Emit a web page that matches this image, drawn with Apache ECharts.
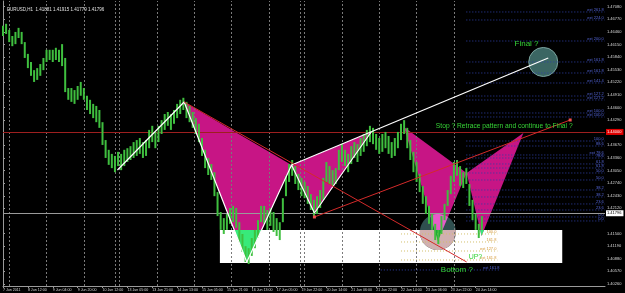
<!DOCTYPE html>
<html><head><meta charset="utf-8">
<script src="https://cdn.jsdelivr.net/npm/echarts@6/dist/echarts.min.js"></script>
<style>html,body{margin:0;padding:0;background:#000}#c{width:625px;height:293px}</style>
</head><body><div id="c"></div>
<script>
// ===== DATA (x = hourly bar index, y = EURUSD price) =====
const xLabelIdx = [0,16,32,48,64,80,96,112,128,144,160,176,192,208,224,240,256,272,288,304];
const xLabelText = ['7 Jun 2011','8 Jun 12:00','9 Jun 04:00','9 Jun 20:00','10 Jun 12:00','13 Jun 05:00','13 Jun 21:00','14 Jun 13:00','15 Jun 05:00','15 Jun 21:00','16 Jun 13:00','17 Jun 05:00','19 Jun 22:00','20 Jun 14:00','21 Jun 06:00','21 Jun 22:00','22 Jun 14:00','23 Jun 06:00','23 Jun 22:00','24 Jun 14:00'];
const daySeparators = [4,28,52,72,75,99,123,147,171,191,194,218,242,266,290];
const yTicks = [1.40260,1.40570,1.40880,1.41190,1.41500,1.42120,1.42430,1.42740,1.43050,1.43360,1.43670,1.44290,1.44600,1.44910,1.45220,1.45530,1.45840,1.46150,1.46460,1.46770,1.47080];
const yMin = 1.40210, yMax = 1.47221, xMax = 387.2;

// two-hour bars: highs and lows
const highs = [1.4661,1.4666,1.4651,1.4636,1.4646,1.4656,1.4646,1.4621,1.4592,1.4572,
1.4552,1.4557,1.4567,1.4582,1.4602,1.4602,1.4602,1.4607,1.4602,1.4616,
1.4582,1.4508,1.4508,1.4503,1.4513,1.4523,1.4508,1.4489,1.4479,1.4469,
1.4464,1.4454,1.4424,1.4380,1.4356,1.4346,1.4341,1.4351,1.4346,1.4356,
1.4360,1.4365,1.4375,1.4380,1.4385,1.4375,1.4380,1.4405,1.4415,1.4400,
1.4415,1.4429,1.4444,1.4449,1.4444,1.4454,1.4469,1.4479,1.4484,1.4474,
1.4464,1.4449,1.4434,1.4420,1.4385,1.4356,1.4336,1.4321,1.4301,1.4252,
1.4203,1.4188,1.4198,1.4213,1.4218,1.4213,1.4178,1.4149,1.4119,1.4114,
1.4139,1.4159,1.4183,1.4218,1.4218,1.4208,1.4213,1.4203,1.4188,1.4178,
1.4237,1.4292,1.4321,1.4331,1.4316,1.4297,1.4287,1.4277,1.4267,1.4247,
1.4233,1.4242,1.4257,1.4287,1.4326,1.4316,1.4306,1.4311,1.4356,1.4370,
1.4356,1.4346,1.4365,1.4375,1.4370,1.4385,1.4395,1.4405,1.4415,1.4410,
1.4395,1.4385,1.4395,1.4400,1.4390,1.4375,1.4385,1.4400,1.4420,1.4429,
1.4410,1.4380,1.4351,1.4326,1.4297,1.4267,1.4242,1.4218,1.4198,1.4174,
1.4159,1.4193,1.4223,1.4257,1.4292,1.4326,1.4331,1.4316,1.4301,1.4311,
1.4272,1.4233,1.4198,1.4174,1.4193];
const lows = [1.4636,1.4641,1.4621,1.4611,1.4616,1.4631,1.4616,1.4582,1.4557,1.4538,
1.4523,1.4528,1.4538,1.4552,1.4572,1.4577,1.4572,1.4577,1.4572,1.4562,
1.4498,1.4479,1.4474,1.4469,1.4479,1.4489,1.4479,1.4454,1.4444,1.4434,
1.4424,1.4410,1.4368,1.4336,1.4319,1.4311,1.4301,1.4316,1.4306,1.4316,
1.4326,1.4331,1.4336,1.4341,1.4346,1.4336,1.4341,1.4360,1.4375,1.4360,
1.4375,1.4395,1.4405,1.4415,1.4405,1.4420,1.4434,1.4444,1.4454,1.4434,
1.4424,1.4410,1.4395,1.4375,1.4341,1.4311,1.4294,1.4282,1.4242,1.4193,
1.4159,1.4149,1.4159,1.4174,1.4178,1.4164,1.4129,1.4105,1.4080,1.4075,
1.4095,1.4114,1.4139,1.4178,1.4174,1.4159,1.4169,1.4154,1.4144,1.4134,
1.4178,1.4242,1.4277,1.4292,1.4272,1.4257,1.4242,1.4237,1.4223,1.4208,
1.4193,1.4198,1.4213,1.4233,1.4277,1.4272,1.4267,1.4272,1.4306,1.4326,
1.4316,1.4301,1.4321,1.4336,1.4326,1.4341,1.4351,1.4365,1.4375,1.4370,
1.4356,1.4346,1.4351,1.4360,1.4346,1.4336,1.4341,1.4360,1.4380,1.4395,
1.4360,1.4331,1.4301,1.4277,1.4252,1.4223,1.4198,1.4174,1.4159,1.4134,
1.4124,1.4149,1.4183,1.4218,1.4247,1.4277,1.4292,1.4267,1.4262,1.4272,
1.4218,1.4183,1.4159,1.4139,1.4159];

// harmonic pattern triangles: [x1,p1,x2,p2,x3,p3]
const patternTriangles = [
  [116.5,1.44737, 156.8,1.40801, 185.6,1.43187],
  [185.6,1.43187, 200.3,1.42006, 236.8,1.43999],
  [257.9,1.44122, 279.7,1.41317, 298.2,1.42990],
  [298.2,1.42990, 307.8,1.41440, 334.7,1.43974]
];
const boxX = [139.5, 359.7];
const boxP = [1.40777, 1.41588];
const circles = [[279.7,1.41539,0.00443],[347.5,1.45721,0.00357]];

const whitePath1 = [[73.6,1.43064],[116.5,1.44737],[156.8,1.40801],[185.6,1.43187],[200.3,1.42006],[236.8,1.43999]];
const whitePath2 = [[185.6,1.43187],[350.7,1.45819]];
const redPath1 = [[116.5,1.44737],[298.2,1.40801]];
const redPath2 = [[200.3,1.41908],[364.8,1.44294]];
const redLevel = 1.44000, bidLevel = 1.41796;

const fibPrices = [1.46951,1.46754,1.46237,1.45721,1.45450,1.45204,1.44884,1.44786,1.44466,1.44368,
  1.43777,1.43654,1.43433,1.43359,1.43212,1.43113,1.42990,1.42818,1.42572,1.42400,1.42228,1.42080,1.41908,1.41810,
  1.41490,1.41293,1.41071,1.40850,1.40604];
const fibLabels = ['ext 261.8','ext 224.0','ext 200.0','ext 161.8','ext 161.8','ext 141.4','ext 127.2','ext 127.2','ext 100.0','ext 100.0',
  '100.0','88.6','ext 78.6','78.6','61.8','61.8','50.0','50.0','38.2','38.2','23.6','23.6','0.0','0.0',
  '100.0','161.8','ext 127.0','ext 161.8','ext 161.8'];
const fibKind = [0,0,0,0,0,0,0,0,0,0, 0,0,0,0,0,0,0,0,0,0,0,0,0,0, 1,1,1,1,2];
const fibRanges = [[298,387],[256,318],[243,320]];

const noteTexts = ['Final ?','Stop ? Retrace pattern and continue to Final ?','UP?','Bottom ?'];
const noteX = [329.0, 278.4, 299.5, 281.6];
const noteP = [1.46164, 1.44146, 1.40924, 1.40604];
const noteSize = [8, 6.7, 7, 8];

// ===== RENDER =====
const PINK='#C71585', PINK_BOX='#38EA7A', SLATE='#2F4F4F', SLATE_PINK='#E85ACA', SLATE_BOX='#D0B0B0', SLATE_BOTH='#17A535';
const FONT='Liberation Sans';

function clipPoly(subject, clip){
  let area=0;
  for(let i=0;i<clip.length;i++){const a=clip[i],b=clip[(i+1)%clip.length];area+=a[0]*b[1]-b[0]*a[1];}
  const s=area>0?1:-1;
  let out=subject.slice();
  for(let i=0;i<clip.length && out.length;i++){
    const a=clip[i], b=clip[(i+1)%clip.length];
    const inside=p=>s*((b[0]-a[0])*(p[1]-a[1])-(b[1]-a[1])*(p[0]-a[0]))>=0;
    const inter=(p,q)=>{const A1=b[1]-a[1],B1=a[0]-b[0],C1=A1*a[0]+B1*a[1];const A2=q[1]-p[1],B2=p[0]-q[0],C2=A2*p[0]+B2*p[1];const d=A1*B2-A2*B1;return [(B2*C1-B1*C2)/d,(A1*C2-A2*C1)/d];};
    const inp=out; out=[];
    for(let j=0;j<inp.length;j++){
      const cur=inp[j], prev=inp[(j+inp.length-1)%inp.length];
      const ci=inside(cur), pi=inside(prev);
      if(ci){ if(!pi) out.push(inter(prev,cur)); out.push(cur);} else if(pi) out.push(inter(prev,cur));
    }
  }
  return out;
}
function boxPoly(api){
  const a=api.coord([boxX[0],boxP[1]]), b=api.coord([boxX[1],boxP[0]]);
  return [[a[0],a[1]],[b[0],a[1]],[b[0],b[1]],[a[0],b[1]]];
}
function triPoly(api,t){return [api.coord([t[0],t[1]]),api.coord([t[2],t[3]]),api.coord([t[4],t[5]])];}
function poly(points,fill){return points.length>2?{type:'polygon',shape:{points},style:{fill}}:null;}

const chart = echarts.init(document.getElementById('c'), null, {renderer:'canvas'});
chart.setOption({
  animation:false,
  backgroundColor:'#000',
  textStyle:{fontFamily:FONT},
  title:{text:'EURUSD,H1  1.41881 1.41915 1.41779 1.41796',left:2,top:2,textStyle:{fontSize:4.5,color:'#e0e0e0',fontWeight:'normal',fontFamily:FONT}},
  grid:{left:0,right:20,top:1,bottom:7,show:false},
  xAxis:{type:'value',min:0,max:xMax,splitLine:{show:false},
    axisLine:{show:true,lineStyle:{color:'#9a9a9a',width:1}},
    axisTick:{show:true,customValues:xLabelIdx,length:2,lineStyle:{color:'#9a9a9a'}},
    axisLabel:{customValues:xLabelIdx,align:'left',margin:2,fontSize:3.6,color:'#d8d8d8',
      formatter:v=>{const i=xLabelIdx.indexOf(Math.round(v));return i>=0?xLabelText[i]:'';}}},
  yAxis:{type:'value',position:'right',min:yMin,max:yMax,splitLine:{show:false},
    axisLine:{show:true,lineStyle:{color:'#9a9a9a',width:1}},
    axisTick:{show:true,customValues:yTicks,length:2,inside:false,lineStyle:{color:'#9a9a9a'}},
    axisLabel:{customValues:yTicks,margin:2,fontSize:4,color:'#d8d8d8',formatter:v=>v.toFixed(5)}},
  series:[
    { // white rectangle
      type:'custom',z:1,silent:true,data:[[boxX[0],boxP[1],boxX[1],boxP[0]]],encode:{x:[0,2],y:[1,3]},
      renderItem:(p,api)=>({type:'polygon',shape:{points:boxPoly(api)},style:{fill:'#ffffff'}})
    },
    { // pattern triangles (XOR look over the white box)
      type:'custom',z:2,silent:true,data:patternTriangles,encode:{x:[0,2,4],y:[1,3,5]},
      renderItem:(p,api)=>{
        const t=triPoly(api,patternTriangles[p.dataIndex]);
        const g=clipPoly(t,boxPoly(api));
        return {type:'group',children:[poly(t,PINK),poly(g,PINK_BOX)].filter(Boolean)};
      }
    },
    { // circles
      type:'custom',z:3,silent:true,data:circles,encode:{x:0,y:1},
      renderItem:(p,api)=>{
        const c=api.coord([api.value(0),api.value(1)]);
        const r=Math.abs(api.size([0,api.value(2)])[1]);
        const cp=[];for(let k=0;k<64;k++){const a=k/64*Math.PI*2;cp.push([c[0]+r*Math.cos(a),c[1]+r*Math.sin(a)]);}
        const box=boxPoly(api);
        const ch=[poly(cp,p.dataIndex===1?'#3b6663':SLATE)];
        patternTriangles.forEach(t=>ch.push(poly(clipPoly(cp,triPoly(api,t)),SLATE_PINK)));
        ch.push(poly(clipPoly(cp,box),SLATE_BOX));
        patternTriangles.forEach(t=>ch.push(poly(clipPoly(clipPoly(cp,triPoly(api,t)),box),SLATE_BOTH)));
        if(p.dataIndex===1) ch.push({type:'circle',shape:{cx:c[0],cy:c[1],r:r},style:{fill:'none',stroke:'#7aa39e',lineWidth:1}});
        return {type:'group',children:ch.filter(Boolean)};
      }
    },
    { // fibonacci levels
      type:'custom',z:4,silent:true,
      data:fibPrices.map((v,i)=>[fibRanges[fibKind[i]][0],fibRanges[fibKind[i]][1],v]),encode:{x:[0,1],y:2},
      renderItem:(p,api)=>{
        const i=p.dataIndex,k=fibKind[i];
        const a=api.coord([api.value(0),api.value(2)]),b=api.coord([api.value(1),api.value(2)]);
        const lc=k===1?'#d2bf6a':'#2e3fa6', tc=k===1?'#d59a3a':'#5566d8';
        return {type:'group',children:[
          {type:'line',shape:{x1:a[0],y1:a[1],x2:b[0],y2:b[1]},style:{stroke:lc,lineWidth:1,lineDash:[1,2]}},
          {type:'text',x:b[0]-1,y:b[1]-0.3,style:{text:fibLabels[i],fill:tc,fontSize:4,fontFamily:FONT,align:'right',verticalAlign:'bottom'}}
        ]};
      }
    },
    { // reference lines: day separators, red level, bid
      type:'line',z:4,silent:true,data:[[0,yMin]],showSymbol:false,lineStyle:{width:0},
      markLine:{silent:true,symbol:'none',animation:false,
        data:[
          ...daySeparators.map(v=>({xAxis:v,lineStyle:{color:'#7a7a7a',width:1,type:[2,2]},label:{show:false}})),
          {yAxis:redLevel,lineStyle:{color:'#9e1f1f',width:1,type:'solid'},
            label:{show:true,position:'end',distance:1,formatter:redLevel.toFixed(5),color:'#fff',backgroundColor:'#e00000',fontSize:4,padding:[1,2,1,1]}},
          {yAxis:bidLevel,lineStyle:{color:'#9a9a9a',width:1,type:'solid'},
            label:{show:true,position:'end',distance:1,formatter:bidLevel.toFixed(5),color:'#000',backgroundColor:'#fff',fontSize:4,padding:[1,2,1,1]}}
        ]}
    },
    { // price bars
      type:'custom',z:5,silent:true,data:highs.map((h,k)=>[2*k,lows[k],h]),encode:{x:0,y:[1,2]},
      renderItem:(p,api)=>{
        const lo=api.coord([api.value(0),api.value(1)]),hi=api.coord([api.value(0),api.value(2)]);
        return {type:'rect',shape:{x:lo[0]-1,y:hi[1],width:2,height:Math.max(1,lo[1]-hi[1])},style:{fill:'#3fbf3f'}};
      }
    },
    {type:'line',z:6,silent:true,data:whitePath1,showSymbol:false,lineStyle:{color:'#ffffff',width:1.2}},
    {type:'line',z:6,silent:true,data:whitePath2,showSymbol:false,lineStyle:{color:'#ffffff',width:1.2}},
    {type:'line',z:6,silent:true,data:redPath1,showSymbol:false,lineStyle:{color:'#d42a2a',width:1}},
    {type:'line',z:6,silent:true,data:redPath2,symbol:'rect',symbolSize:3,showSymbol:true,itemStyle:{color:'#f05050'},lineStyle:{color:'#d42a2a',width:1}},
    { // annotations
      type:'custom',z:7,silent:true,data:noteX.map((x,i)=>[x,noteP[i]]),encode:{x:0,y:1},
      renderItem:(p,api)=>{
        const c=api.coord([api.value(0),api.value(1)]);
        return {type:'text',x:c[0],y:c[1],style:{text:noteTexts[p.dataIndex],fill:'#36d436',fontSize:noteSize[p.dataIndex],fontFamily:FONT,align:'left',verticalAlign:'middle'}};
      }
    }
  ]
});
</script></body></html>
